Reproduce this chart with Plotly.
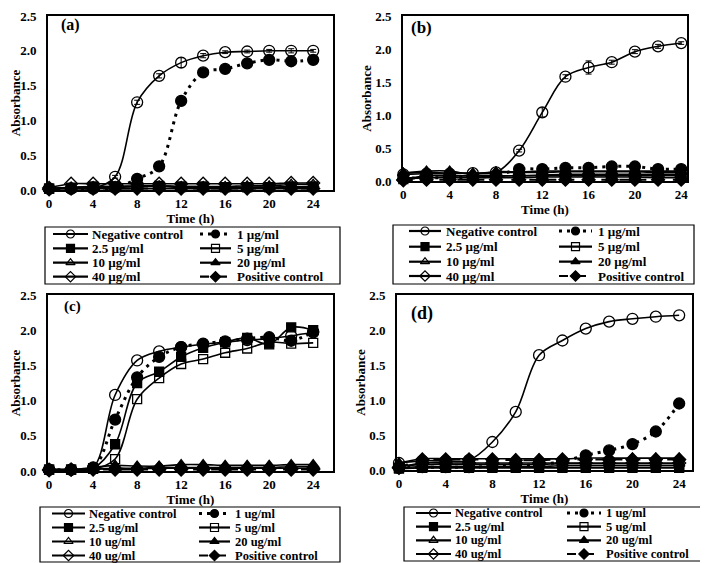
import plotly.graph_objects as go

W, H = 708, 563
OFF = 8  # page body margin: the figure starts 8 px from the window's corner
FONT = "Liberation Serif"

# ---------------- data ----------------
TIME = [0, 2, 4, 6, 8, 10, 12, 14, 16, 18, 20, 22, 24]
X_TICKS = [0, 4, 8, 12, 16, 20, 24]
Y_TICKS = [0.0, 0.5, 1.0, 1.5, 2.0, 2.5]
Y_TICK_LABELS = ["0.0", "0.5", "1.0", "1.5", "2.0", "2.5"]

NAMES_MU = ["Negative control", "1 µg/ml", "2.5 µg/ml", "5 µg/ml",
            "10 µg/ml", "20 µg/ml", "40 µg/ml", "Positive control"]
NAMES_U = ["Negative control", "1 ug/ml", "2.5 ug/ml", "5 ug/ml",
           "10 ug/ml", "20 ug/ml", "40 ug/ml", "Positive control"]
PANEL_LABELS = ["(a)", "(b)", "(c)", "(d)"]
X_TITLE = "Time (h)"
Y_TITLE = "Absorbance"

# panel (a)
A_NEG = [0.02, 0.02, 0.03, 0.19, 1.26, 1.64, 1.83, 1.93, 1.98, 1.99, 2.00, 2.00, 2.00]
A_NEG_ERR = [0, 0, 0, 0.02, 0.03, 0.03, 0.07, 0.03, 0.02, 0.02, 0.02, 0.03, 0.02]
A_1 = [0.02, 0.02, 0.02, 0.03, 0.16, 0.34, 1.28, 1.69, 1.74, 1.82, 1.87, 1.85, 1.87]
A_2_5 = [0.02, 0.03, 0.04, 0.04, 0.05, 0.05, 0.04, 0.04, 0.04, 0.04, 0.04, 0.04, 0.04]
A_5 = [0.02, 0.03, 0.05, 0.05, 0.05, 0.06, 0.05, 0.05, 0.04, 0.04, 0.04, 0.05, 0.05]
A_10 = [0.02, 0.04, 0.05, 0.05, 0.06, 0.06, 0.05, 0.05, 0.05, 0.06, 0.06, 0.08, 0.08]
A_20 = [0.02, 0.02, 0.02, 0.02, 0.02, 0.02, 0.02, 0.02, 0.02, 0.02, 0.02, 0.02, 0.02]
A_40 = [0.03, 0.09, 0.09, 0.09, 0.09, 0.09, 0.09, 0.09, 0.09, 0.09, 0.09, 0.10, 0.10]
A_POS = [0.01, 0.02, 0.02, 0.02, 0.02, 0.02, 0.02, 0.02, 0.02, 0.02, 0.02, 0.02, 0.02]

# panel (b)
B_NEG = [0.10, 0.11, 0.11, 0.12, 0.13, 0.46, 1.04, 1.58, 1.72, 1.80, 1.96, 2.04, 2.09]
B_NEG_ERR = [0, 0, 0, 0, 0, 0.02, 0.07, 0.03, 0.10, 0.03, 0.03, 0.03, 0.02]
B_1 = [0.04, 0.05, 0.05, 0.06, 0.08, 0.18, 0.18, 0.20, 0.20, 0.22, 0.22, 0.18, 0.18]
B_2_5 = [0.05, 0.05, 0.05, 0.05, 0.05, 0.05, 0.06, 0.06, 0.06, 0.06, 0.06, 0.05, 0.05]
B_5 = [0.03, 0.05, 0.06, 0.06, 0.07, 0.08, 0.09, 0.10, 0.10, 0.10, 0.10, 0.10, 0.10]
B_10 = [0.12, 0.13, 0.12, 0.12, 0.13, 0.13, 0.13, 0.14, 0.14, 0.14, 0.14, 0.13, 0.13]
B_20 = [0.12, 0.15, 0.15, 0.10, 0.14, 0.14, 0.15, 0.15, 0.15, 0.15, 0.15, 0.15, 0.15]
B_40 = [0.02, 0.08, 0.08, 0.08, 0.08, 0.08, 0.08, 0.08, 0.08, 0.08, 0.08, 0.08, 0.08]
B_POS = [0.01, 0.02, 0.02, 0.02, 0.02, 0.02, 0.02, 0.02, 0.02, 0.02, 0.02, 0.02, 0.02]

# panel (c)
C_NEG = [0.02, 0.02, 0.05, 1.08, 1.57, 1.70, 1.76, 1.80, 1.83, 1.86, 1.88, 1.92, 1.97]
C_1 = [0.02, 0.02, 0.04, 0.73, 1.33, 1.62, 1.76, 1.81, 1.84, 1.88, 1.90, 1.85, 1.98]
C_2_5 = [0.02, 0.02, 0.04, 0.38, 1.25, 1.41, 1.62, 1.75, 1.83, 1.89, 1.80, 2.04, 2.00]
C_5 = [0.02, 0.02, 0.03, 0.17, 1.02, 1.32, 1.52, 1.59, 1.68, 1.74, 1.83, 1.81, 1.82]
C_10 = [0.02, 0.02, 0.03, 0.04, 0.04, 0.05, 0.05, 0.05, 0.05, 0.05, 0.05, 0.06, 0.06]
C_20 = [0.02, 0.02, 0.05, 0.08, 0.07, 0.07, 0.09, 0.09, 0.08, 0.08, 0.08, 0.09, 0.09]
C_40 = [0.02, 0.02, 0.03, 0.03, 0.03, 0.04, 0.04, 0.04, 0.04, 0.04, 0.04, 0.04, 0.04]
C_POS = [0.01, 0.02, 0.02, 0.02, 0.02, 0.02, 0.02, 0.02, 0.02, 0.02, 0.02, 0.02, 0.02]

# panel (d)
D_NEG = [0.10, 0.13, 0.13, 0.14, 0.40, 0.83, 1.64, 1.85, 2.02, 2.12, 2.16, 2.19, 2.21]
D_1 = [0.03, 0.04, 0.04, 0.04, 0.05, 0.06, 0.08, 0.12, 0.21, 0.28, 0.37, 0.55, 0.95]
D_2_5 = [0.02, 0.03, 0.03, 0.03, 0.03, 0.03, 0.03, 0.03, 0.03, 0.03, 0.03, 0.03, 0.03]
D_5 = [0.03, 0.05, 0.05, 0.05, 0.05, 0.05, 0.05, 0.06, 0.06, 0.06, 0.06, 0.06, 0.06]
D_10 = [0.05, 0.08, 0.08, 0.08, 0.08, 0.08, 0.08, 0.09, 0.09, 0.09, 0.09, 0.09, 0.09]
D_20 = [0.10, 0.16, 0.16, 0.16, 0.16, 0.16, 0.16, 0.16, 0.17, 0.17, 0.17, 0.17, 0.17]
D_40 = [0.04, 0.10, 0.10, 0.10, 0.10, 0.10, 0.10, 0.10, 0.10, 0.10, 0.10, 0.10, 0.10]
D_POS = [0.03, 0.15, 0.15, 0.15, 0.15, 0.14, 0.14, 0.15, 0.15, 0.15, 0.15, 0.15, 0.15]

PANELS = [
    dict(series=[A_NEG, A_1, A_2_5, A_5, A_10, A_20, A_40, A_POS], names=NAMES_MU, err=A_NEG_ERR),
    dict(series=[B_NEG, B_1, B_2_5, B_5, B_10, B_20, B_40, B_POS], names=NAMES_MU, err=B_NEG_ERR),
    dict(series=[C_NEG, C_1, C_2_5, C_5, C_10, C_20, C_40, C_POS], names=NAMES_U, err=None),
    dict(series=[D_NEG, D_1, D_2_5, D_5, D_10, D_20, D_40, D_POS], names=NAMES_U, err=None),
]

# ---------------- styles ----------------
DOT = "3px,5px"
STYLES = [
    dict(symbol="circle-open", dash="solid", size=11, lw=1.6),
    dict(symbol="circle", dash=DOT, size=11, lw=3),
    dict(symbol="square", dash="solid", size=9, lw=1.6),
    dict(symbol="square-open", dash="solid", size=9, lw=1.6),
    dict(symbol="triangle-up-open", dash="solid", size=10, lw=1.6),
    dict(symbol="triangle-up", dash="solid", size=10, lw=1.6),
    dict(symbol="diamond-open", dash="solid", size=10, lw=1.6),
    dict(symbol="diamond", dash="dash", size=10, lw=2),
]

# layout geometry in window pixels: plot area (left, right, top, bottom), x range,
# panel label (x, y, size), y-title standoff
GEOM = [
    dict(l=48, r=333, t=16, b=190, xrange=[-0.1, 25.8], lab=(59, 25, 16), ysd=1),
    dict(l=403, r=687, t=16, b=181, xrange=[-0.03, 24.5], lab=(409, 27, 17), ysd=1),
    dict(l=48, r=333, t=295, b=471, xrange=[-0.1, 25.8], lab=(62, 306, 15), ysd=1),
    dict(l=397, r=692, t=295, b=470, xrange=[-0.17, 25.1], lab=(409, 313, 18), ysd=1),
]
# legend boxes: box (x0, y0, x1, y1), row centres, columns (key start, key end, text start), font size
LEGEND_GEOM = [
    dict(box=(45, 227, 340, 284), rows=[234, 248.3, 262.7, 276.7],
         cols=[(53, 88, 90), (200, 231, 235)], fs=13),
    dict(box=(393, 225, 694, 284), rows=[231, 246.7, 261.7, 276],
         cols=[(409, 441, 444), (559, 592, 596)], fs=13),
    dict(box=(40, 507, 340, 562), rows=[513.5, 527.5, 541.5, 555.5],
         cols=[(52, 85, 87), (199, 230, 233)], fs=12.5),
    dict(box=(404, 507, 704, 561), rows=[513, 526.7, 540.3, 554],
         cols=[(416, 451, 453), (567, 601, 604)], fs=12.5),
]


def px_x(v):
    return (v - OFF) / W


def px_y(v):
    return 1 - (v - OFF) / H


fig = go.Figure()
annotations = []
shapes = []
tfont = dict(family=FONT, size=13, color="black", weight="bold")

for p, (data, geo) in enumerate(zip(PANELS, GEOM)):
    suf = "" if p == 0 else str(p + 1)
    xa, ya = "x" + suf, "y" + suf
    for i, (vals, st) in enumerate(zip(data["series"], STYLES)):
        err = data["err"] if (i == 0 and data["err"] is not None) else None
        fig.add_trace(go.Scatter(
            x=TIME, y=vals, name=data["names"][i], xaxis=xa, yaxis=ya,
            mode="lines+markers", showlegend=False, cliponaxis=False,
            line=dict(color="black", width=st["lw"], dash=st["dash"], shape="spline", smoothing=1),
            marker=dict(symbol=st["symbol"], size=st["size"], color="black",
                        line=dict(color="black", width=1.3)),
            error_y=dict(type="data", array=err, visible=err is not None,
                         color="black", thickness=1, width=3),
        ))
    fig.layout["xaxis" + suf] = dict(
        domain=[px_x(geo["l"]), px_x(geo["r"])], range=geo["xrange"], anchor=ya,
        tickvals=X_TICKS, ticktext=[str(v) for v in X_TICKS],
        showline=True, mirror=True, linecolor="black", linewidth=2,
        showgrid=False, zeroline=False, ticks="", ticklabelstandoff=0,
        ticklabeloverflow="allow",
        tickfont=tfont, title=dict(text=X_TITLE, font=tfont, standoff=0),
        automargin=False, fixedrange=True,
    )
    fig.layout["yaxis" + suf] = dict(
        domain=[px_y(geo["b"]), px_y(geo["t"])], range=[0, 2.5], anchor=xa,
        tickvals=Y_TICKS, ticktext=Y_TICK_LABELS,
        showline=True, mirror=True, linecolor="black", linewidth=2,
        showgrid=False, zeroline=False, ticks="", ticklabelstandoff=7,
        ticklabeloverflow="allow",
        tickfont=tfont, title=dict(text=Y_TITLE, font=tfont, standoff=geo["ysd"]),
        automargin=False, fixedrange=True,
    )
    lx, ly, ls = geo["lab"]
    annotations.append(dict(text=PANEL_LABELS[p], x=lx, y=ly, xref="x5", yref="y5",
                            xanchor="left", yanchor="middle", showarrow=False,
                            font=dict(family=FONT, size=ls, color="black", weight="bold")))

    # legend (keys + labels inside a box)
    lg = LEGEND_GEOM[p]
    x0, y0, x1, y1 = lg["box"]
    shapes.append(dict(type="rect", xref="x5", yref="y5", x0=x0, y0=y0, x1=x1, y1=y1,
                       line=dict(color="black", width=1.2), fillcolor="rgba(0,0,0,0)"))
    for i, st in enumerate(STYLES):
        col, row = i % 2, i // 2
        kl, kr, tx = lg["cols"][col]
        yr = lg["rows"][row]
        fig.add_trace(go.Scatter(
            x=[kl, kr], y=[yr, yr], xaxis="x5", yaxis="y5", mode="lines",
            showlegend=False, hoverinfo="skip",
            line=dict(color="black", width=2.2 if i != 1 else 3, dash=st["dash"]),
        ))
        fig.add_trace(go.Scatter(
            x=[(kl + kr) / 2], y=[yr], xaxis="x5", yaxis="y5", mode="markers",
            showlegend=False, hoverinfo="skip",
            marker=dict(symbol=st["symbol"], size=8, color="black",
                        line=dict(color="black", width=1.2)),
        ))
        annotations.append(dict(text=data["names"][i], x=tx, y=yr, xref="x5", yref="y5",
                                xanchor="left", yanchor="middle", showarrow=False,
                                font=dict(family=FONT, size=lg["fs"], color="black", weight="bold")))

# overlay axes in window-pixel units, used for the legends and panel labels
fig.layout["xaxis5"] = dict(domain=[0, 1], range=[OFF, W + OFF], visible=False, anchor="y5",
                            fixedrange=True, automargin=False)
fig.layout["yaxis5"] = dict(domain=[0, 1], range=[H + OFF, OFF], visible=False, anchor="x5",
                            fixedrange=True, automargin=False)

fig.update_layout(
    width=W, height=H, margin=dict(l=0, r=0, t=0, b=0), autosize=False,
    paper_bgcolor="white", plot_bgcolor="rgba(0,0,0,0)",
    annotations=annotations, shapes=shapes, showlegend=False,
    font=dict(family=FONT, color="black"),
)

fig.write_html("out.html")
